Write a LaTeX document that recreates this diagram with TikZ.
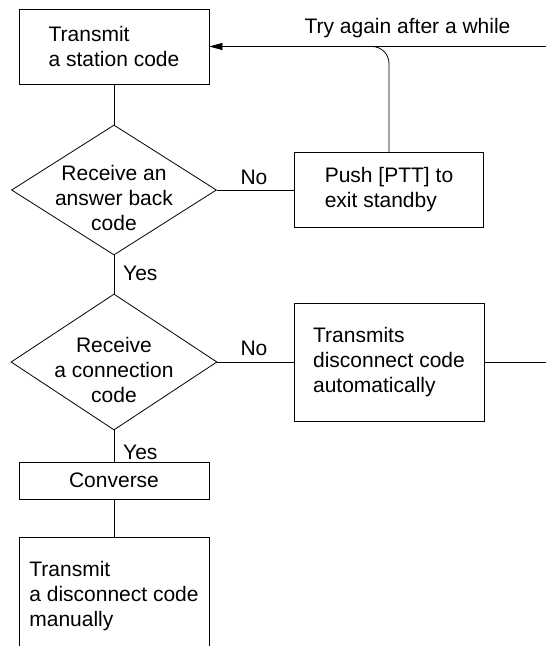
\documentclass[tikz,border=0pt]{standalone}
\usepackage{fontspec}
\setmainfont{Liberation Sans}
\usetikzlibrary{shapes.geometric,arrows.meta}
\begin{document}
\begin{tikzpicture}[x=1pt,y=-1pt,
  every node/.style={font=\fontsize{21}{25}\selectfont},
  line/.style={line width=0.8pt},
  box/.style={draw, line width=0.8pt, inner sep=0pt, align=left},
  dia/.style={draw, line width=0.8pt, diamond, inner sep=0pt},
  lbl/.style={inner sep=0pt}]
\useasboundingbox (0,0) rectangle (546,646);
% boxes
\node[box, minimum width=190pt, minimum height=75pt] (b1) at (114,46.5) {Transmit\\a station code};
\node[dia, minimum width=205pt, minimum height=130pt] (d1) at (114,190) {};
\node[lbl, align=center] (d1t) at (114,198) {Receive an\\answer back\\code};
\node[box, minimum width=189pt, minimum height=75pt] (b2) at (389,190) {Push [PTT] to\\exit standby};
\node[dia, minimum width=206pt, minimum height=136pt] (d2) at (114,362) {};
\node[lbl, align=center] (d2t) at (114,370) {Receive\\a connection\\code};
\node[box, minimum width=190pt, minimum height=118pt] (b3) at (389,362) {Transmits\\disconnect code\\automatically};
\node[box, minimum width=190pt, minimum height=37pt] (b4) at (114,480.7) {Converse};
\coordinate (b5bl) at (19,646);
\coordinate (b5tl) at (19,537);
\coordinate (b5t) at (114,537);
\coordinate (b5tr) at (209,537);
\coordinate (b5br) at (209,646);
\draw[line] (b5bl) -- (b5tl) -- (b5tr) -- (b5br);
\node[lbl, align=left] (b5txt) at (114,596) {Transmit\\a disconnect code\\manually};
% free ends
\coordinate (r1) at (546,46.5);
\coordinate (r2) at (546,362);
\coordinate (j) at (340,46.5);
% connectors
\draw[line] (b1) -- (d1);
\draw[line] (d1) -- (d2);
\draw[line] (d2) -- (b4);
\draw[line] (b4) -- (b5t);
\draw[line] (d1) -- (b2);
\draw[line] (d2) -- (b3);
\draw[line] (b3) -- (r2);
\draw[line, -{Triangle[length=13pt,width=7pt]}] (r1) -- (b1);
\draw[line, rounded corners=17pt] (b2.north) |- (j);
% labels
\node[lbl] (no1) at (254,177) {No};
\node[lbl] (no2) at (254,348) {No};
\node[lbl, anchor=west] (yes1) at (123,273) {Yes};
\node[lbl, anchor=west] (yes2) at (123,452) {Yes};
\node[lbl] (try) at (407.5,28) {Try again after a while};
\end{tikzpicture}
\end{document}
